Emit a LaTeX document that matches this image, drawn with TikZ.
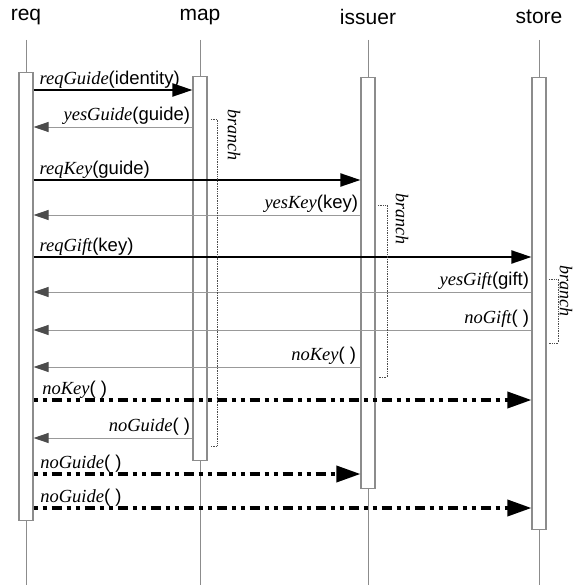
\documentclass[tikz,border=0pt]{standalone}
\usepackage{fontspec}
\setmainfont{Liberation Sans}
\newfontfamily\serifface{Liberation Serif}
\usetikzlibrary{arrows.meta}

\definecolor{lifegray}{gray}{0.55}
\definecolor{replygray}{gray}{0.6}
\definecolor{tipgray}{gray}{0.3}

% message name in italic serif, arguments in sans
\newcommand{\op}[2]{{\serifface\itshape #1}(#2)}

\begin{document}
\begin{tikzpicture}[
    x=1pt, y=-1pt,
    title/.style={font=\fontsize{21}{23}\selectfont, inner sep=0pt},
    lifeline/.style={draw=lifegray, line width=1pt},
    bar/.style={rectangle, draw=lifegray, fill=white, line width=1.1pt, minimum width=14pt, anchor=north, inner sep=0pt},
    call/.style={-{Triangle[length=20pt,width=13pt]}, line width=2pt},
    reply/.style={-{Triangle[length=15pt,width=10pt,color=tipgray]}, draw=replygray, line width=0.9pt},
    fail/.style={-{Triangle[length=24pt,width=16pt]}, line width=3.5pt, dash pattern=on 4pt off 5pt on 4pt off 5pt on 10pt off 5pt},
    lbl/.style={font=\fontsize{18.5}{21}\selectfont, inner sep=1pt},
    branchline/.style={draw=black!70, densely dotted, line width=0.7pt},
    branchlbl/.style={font=\fontsize{18}{20}\selectfont\serifface\itshape, rotate=-90, inner sep=0pt}
]
\useasboundingbox (0,0) rectangle (575,585);

% participants
\node[title] (req) at (26,17) {req};
\node[title] (map) at (200,17) {map};
\node[title] (issuer) at (368,17) {issuer};
\node[title] (store) at (539,17) {store};

\draw[lifeline] (req |- 0,40) -- (req |- 0,585);
\draw[lifeline] (map |- 0,40) -- (map |- 0,585);
\draw[lifeline] (issuer |- 0,40) -- (issuer |- 0,585);
\draw[lifeline] (store |- 0,40) -- (store |- 0,585);

\node[bar, minimum height=448pt] (reqbar) at (26,72) {};
\node[bar, minimum height=384pt] (mapbar) at (200,76) {};
\node[bar, minimum height=411pt] (issuerbar) at (368,77) {};
\node[bar, minimum height=452pt] (storebar) at (539,77) {};

% messages
\draw[call] (reqbar.east |- 0,90) -- node[lbl, pos=0, anchor=south west, xshift=4pt] {\op{reqGuide}{identity}} (mapbar.west |- 0,90);
\draw[reply] (mapbar.west |- 0,127) -- node[lbl, pos=0, anchor=south east, xshift=-1pt, yshift=1pt] {\op{yesGuide}{guide}} (reqbar.east |- 0,127);
\draw[call] (reqbar.east |- 0,180) -- node[lbl, pos=0, anchor=south west, xshift=4pt] {\op{reqKey}{guide}} (issuerbar.west |- 0,180);
\draw[reply] (issuerbar.west |- 0,215) -- node[lbl, pos=0, anchor=south east, xshift=-1pt, yshift=1pt] {\op{yesKey}{key}} (reqbar.east |- 0,215);
\draw[call] (reqbar.east |- 0,257) -- node[lbl, pos=0, anchor=south west, xshift=4pt] {\op{reqGift}{key}} (storebar.west |- 0,257);
\draw[reply] (storebar.west |- 0,292) -- node[lbl, pos=0, anchor=south east, xshift=-1pt, yshift=1pt] {\op{yesGift}{gift}} (reqbar.east |- 0,292);
\draw[reply] (storebar.west |- 0,330) -- node[lbl, pos=0, anchor=south east, xshift=-1pt, yshift=1pt] {\op{noGift}{\ }} (reqbar.east |- 0,330);
\draw[reply] (issuerbar.west |- 0,367) -- node[lbl, pos=0, anchor=south east, xshift=-3pt, yshift=1pt] {\op{noKey}{\ }} (reqbar.east |- 0,367);
\draw[fail] (reqbar.east |- 0,400) -- node[lbl, pos=0, anchor=south west, xshift=6pt, yshift=-1pt] {\op{noKey}{\ }} (storebar.west |- 0,400);
\draw[reply] (mapbar.west |- 0,438) -- node[lbl, pos=0, anchor=south east, xshift=-1pt, yshift=1pt] {\op{noGuide}{\ }} (reqbar.east |- 0,438);
\draw[fail] (reqbar.east |- 0,474) -- node[lbl, pos=0, anchor=south west, xshift=4pt, yshift=-1pt] {\op{noGuide}{\ }} (issuerbar.west |- 0,474);
\draw[fail] (reqbar.east |- 0,508) -- node[lbl, pos=0, anchor=south west, xshift=4pt, yshift=-1pt] {\op{noGuide}{\ }} (storebar.west |- 0,508);

% branch brackets
\draw[branchline] (211,119) -| (217,446) -- (211,446);
\node[branchlbl] (mapbranch) at (234,135) {branch};
\draw[branchline] (378,205) -| (387,377) -- (378,377);
\node[branchlbl] (issuerbranch) at (402,219) {branch};
\draw[branchline] (549,279) -| (558,343) -- (549,343);
\node[branchlbl] (storebranch) at (566,291) {branch};

\end{tikzpicture}
\end{document}
